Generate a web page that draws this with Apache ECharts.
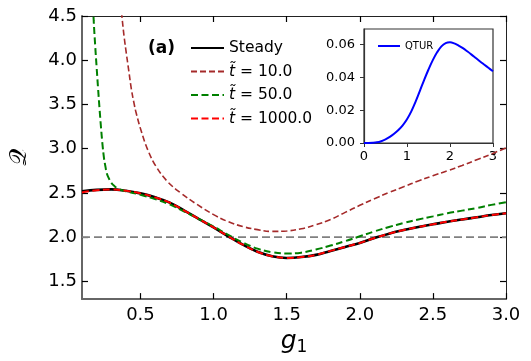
<!DOCTYPE html>
<html>
<head>
<meta charset="utf-8">
<script src="https://cdn.jsdelivr.net/npm/echarts@6/dist/echarts.min.js"></script>
<style>
html, body { margin: 0; padding: 0; background: #fff; }
#main { width: 531px; height: 361px; }
</style>
</head>
<body>
<div id="main"></div>
<script>
// Q vs g1, steady state and three times
var gSteady = [0.1, 0.2, 0.3, 0.4, 0.5, 0.6, 0.7, 0.8, 0.9, 1.0, 1.1, 1.2, 1.3, 1.4, 1.5, 1.6, 1.7, 1.8, 1.9, 2.0, 2.1, 2.2, 2.3, 2.4, 2.5, 2.6, 2.7, 2.8, 2.9, 3.0];
var qSteady = [2.52, 2.535, 2.54, 2.525, 2.495, 2.45, 2.39, 2.30, 2.205, 2.11, 2.01, 1.915, 1.835, 1.785, 1.765, 1.775, 1.80, 1.845, 1.89, 1.935, 1.99, 2.04, 2.08, 2.115, 2.145, 2.175, 2.20, 2.225, 2.25, 2.27];
var qT1000 = [2.505, 2.53, 2.538, 2.525, 2.495, 2.45, 2.39, 2.30, 2.205, 2.11, 2.01, 1.915, 1.835, 1.785, 1.765, 1.775, 1.80, 1.845, 1.89, 1.935, 1.99, 2.04, 2.08, 2.115, 2.145, 2.175, 2.20, 2.225, 2.25, 2.27];

var gT10 = [0.36, 0.374, 0.39, 0.403, 0.42, 0.437, 0.455, 0.471, 0.505, 0.549, 0.606, 0.684, 0.775, 0.887, 1.0, 1.1, 1.2, 1.3, 1.4, 1.5, 1.6, 1.7, 1.8, 1.9, 2.0, 2.1, 2.2, 2.3, 2.4, 2.5, 2.6, 2.7, 2.8, 2.9, 3.0];
var qT10 = [4.75, 4.48, 4.24, 4.08, 3.88, 3.68, 3.52, 3.40, 3.20, 2.99, 2.80, 2.63, 2.50, 2.37, 2.255, 2.175, 2.12, 2.085, 2.065, 2.07, 2.095, 2.14, 2.20, 2.28, 2.36, 2.435, 2.505, 2.57, 2.635, 2.695, 2.75, 2.81, 2.875, 2.94, 3.01];

var gT50 = [0.17, 0.18, 0.19, 0.20, 0.21, 0.22, 0.23, 0.24, 0.25, 0.26, 0.27, 0.285, 0.30, 0.32, 0.35, 0.4, 0.5, 0.6, 0.7, 0.8, 0.9, 1.0, 1.1, 1.2, 1.3, 1.4, 1.5, 1.6, 1.7, 1.8, 1.9, 2.0, 2.1, 2.2, 2.3, 2.4, 2.5, 2.6, 2.7, 2.8, 2.9, 3.0];
var qT50 = [4.85, 4.45, 4.17, 3.92, 3.68, 3.45, 3.24, 3.05, 2.90, 2.80, 2.72, 2.66, 2.615, 2.58, 2.545, 2.52, 2.48, 2.43, 2.37, 2.29, 2.205, 2.12, 2.025, 1.94, 1.87, 1.83, 1.815, 1.825, 1.86, 1.905, 1.955, 2.01, 2.065, 2.115, 2.16, 2.20, 2.235, 2.27, 2.30, 2.33, 2.365, 2.395];

var xTicks = [0.5, 1.0, 1.5, 2.0, 2.5, 3.0];
var yTicks = [1.5, 2.0, 2.5, 3.0, 3.5, 4.0, 4.5];
var refLevel = 2.0;

// inset: QTUR vs g1
var gInset = [0, 0.1, 0.2, 0.3, 0.4, 0.5, 0.6, 0.7, 0.8, 0.9, 1.0, 1.1, 1.2, 1.3, 1.4, 1.5, 1.6, 1.7, 1.8, 1.9, 2.0, 2.1, 2.2, 2.3, 2.4, 2.5, 2.6, 2.7, 2.8, 2.9, 3.0];
var qtur = [0, 0, 0.0001, 0.0004, 0.0011, 0.0022, 0.0037, 0.0056, 0.0079, 0.0108, 0.0145, 0.0193, 0.0252, 0.0318, 0.0385, 0.0448, 0.0505, 0.0553, 0.0589, 0.0609, 0.0614, 0.0607, 0.0594, 0.0578, 0.0559, 0.0539, 0.0518, 0.0497, 0.0477, 0.0457, 0.0437];
var insetYTicks = [0, 0.02, 0.04, 0.06];

function pairs(xs, ys) {
    return xs.map(function (x, i) { return [x, ys[i]]; });
}

var chart = echarts.init(document.getElementById('main'));
var font = 'DejaVu Sans';

var option = {
    animation: false,
    title: {
        text: '(a)',
        left: 143, top: 35,
        textStyle: { fontFamily: font, fontSize: 17, fontWeight: 'bold', color: '#000' }
    },
    legend: [{
        data: ['Steady', 't10', 't50', 't1000'],
        orient: 'vertical',
        left: 185, top: 35,
        itemWidth: 33, itemHeight: 14, itemGap: 7.5,
        itemStyle: { opacity: 0 },
        textStyle: {
            fontFamily: font, fontSize: 15.5, color: '#000',
            rich: { t: { fontFamily: font, fontSize: 15.5, fontStyle: 'italic' } }
        },
        formatter: function (name) {
            if (name === 'Steady') return 'Steady';
            return '{t|t\u0303} = ' + name.slice(1) + '.0';
        }
    }, {
        data: ['QTUR'],
        left: 372, top: 36,
        itemWidth: 22, itemHeight: 10, itemGap: 6,
        itemStyle: { opacity: 0 },
        textStyle: { fontFamily: font, fontSize: 10, color: '#000' }
    }],
    grid: [
        { left: 77, right: 25, top: 16, bottom: 60 },
        { left: 364, right: 38, top: 29, bottom: 218, backgroundColor: '#fff', show: true, borderColor: '#333', borderWidth: 1.2 }
    ],
    xAxis: [{
        gridIndex: 0, type: 'value', min: 0.1, max: 3.0,
        name: '{i|g}{s|1}', nameLocation: 'middle', nameGap: 26,
        nameTextStyle: {
            rich: {
                i: { fontFamily: font, fontSize: 25, fontStyle: 'italic', color: '#000' },
                s: { fontFamily: font, fontSize: 17, color: '#000', padding: [12, 0, 0, 0] }
            }
        },
        axisLine: { onZero: false, lineStyle: { color: '#666', width: 2 } },
        axisTick: { inside: true, length: 6, customValues: xTicks, lineStyle: { color: '#000', width: 1.2 } },
        axisLabel: { customValues: xTicks, margin: 7, fontFamily: font, fontSize: 18, color: '#000', formatter: function (v) { return v.toFixed(1); } },
        splitLine: { show: false }
    }, {
        gridIndex: 0, type: 'value', min: 0.1, max: 3.0, position: 'top',
        axisLine: { onZero: false, lineStyle: { color: '#222', width: 1 } },
        axisTick: { inside: true, length: 6, customValues: xTicks, lineStyle: { color: '#000', width: 1.2 } },
        axisLabel: { show: false },
        splitLine: { show: false }
    }, {
        gridIndex: 1, type: 'value', min: 0, max: 3, interval: 1,
        axisLine: { onZero: false, lineStyle: { color: '#333', width: 1.2 } },
        axisTick: { inside: false, length: 4, lineStyle: { color: '#333' } },
        axisLabel: { margin: 7, fontFamily: font, fontSize: 13, color: '#000', showMaxLabel: true },
        splitLine: { show: false }
    }],
    yAxis: [{
        gridIndex: 0, type: 'value', min: 1.3, max: 4.5,
        name: '\uD835\uDCAC', nameLocation: 'middle', nameGap: 50,
        nameTextStyle: { fontFamily: font, fontSize: 24, color: '#000' },
        axisLine: { onZero: false, lineStyle: { color: '#666', width: 2 } },
        axisTick: { inside: true, length: 6, customValues: yTicks, lineStyle: { color: '#000', width: 1.2 } },
        axisLabel: { customValues: yTicks, margin: 5, fontFamily: font, fontSize: 18, color: '#000', formatter: function (v) { return v.toFixed(1); } },
        splitLine: { show: false }
    }, {
        gridIndex: 0, type: 'value', min: 1.3, max: 4.5, position: 'right',
        axisLine: { onZero: false, lineStyle: { color: '#222', width: 1 } },
        axisTick: { inside: true, length: 6, customValues: yTicks, lineStyle: { color: '#000', width: 1.2 } },
        axisLabel: { show: false },
        splitLine: { show: false }
    }, {
        gridIndex: 1, type: 'value', min: 0, max: 0.0695,
        axisLine: { onZero: false, lineStyle: { color: '#333', width: 1.2 } },
        axisTick: { inside: false, length: 4, customValues: insetYTicks, lineStyle: { color: '#333' } },
        axisLabel: { customValues: insetYTicks, margin: 9, fontFamily: font, fontSize: 13, color: '#000', formatter: function (v) { return v.toFixed(2); } },
        splitLine: { show: false }
    }],
    series: [{
        name: 'ref', type: 'line', xAxisIndex: 0, yAxisIndex: 0, symbol: 'none',
        data: [[0.1, refLevel], [3.0, refLevel]],
        lineStyle: { color: '#808080', width: 1.6, type: [8, 4] }, z: 1
    }, {
        name: 'Steady', type: 'line', xAxisIndex: 0, yAxisIndex: 0, symbol: 'none', smooth: 0.4,
        data: pairs(gSteady, qSteady),
        lineStyle: { color: '#000', width: 2.6 }, itemStyle: { color: '#000' }, z: 2
    }, {
        name: 't10', type: 'line', xAxisIndex: 0, yAxisIndex: 0, symbol: 'none', smooth: 0.4,
        data: pairs(gT10, qT10),
        lineStyle: { color: '#a52a2a', width: 1.6, type: [6, 3] }, itemStyle: { color: '#a52a2a' }, z: 3
    }, {
        name: 't50', type: 'line', xAxisIndex: 0, yAxisIndex: 0, symbol: 'none', smooth: 0.4,
        data: pairs(gT50, qT50),
        lineStyle: { color: '#008000', width: 2, type: [7, 3.5] }, itemStyle: { color: '#008000' }, z: 4
    }, {
        name: 't1000', type: 'line', xAxisIndex: 0, yAxisIndex: 0, symbol: 'none', smooth: 0.4,
        data: pairs(gSteady, qT1000),
        lineStyle: { color: '#ff0000', width: 2, type: [7, 3.5] }, itemStyle: { color: '#ff0000' }, z: 5
    }, {
        name: 'QTUR', type: 'line', xAxisIndex: 2, yAxisIndex: 2, symbol: 'none', smooth: 0.4,
        data: pairs(gInset, qtur),
        lineStyle: { color: '#0000ff', width: 2 }, itemStyle: { color: '#0000ff' }, z: 6
    }]
};

chart.setOption(option);
</script>
</body>
</html>
